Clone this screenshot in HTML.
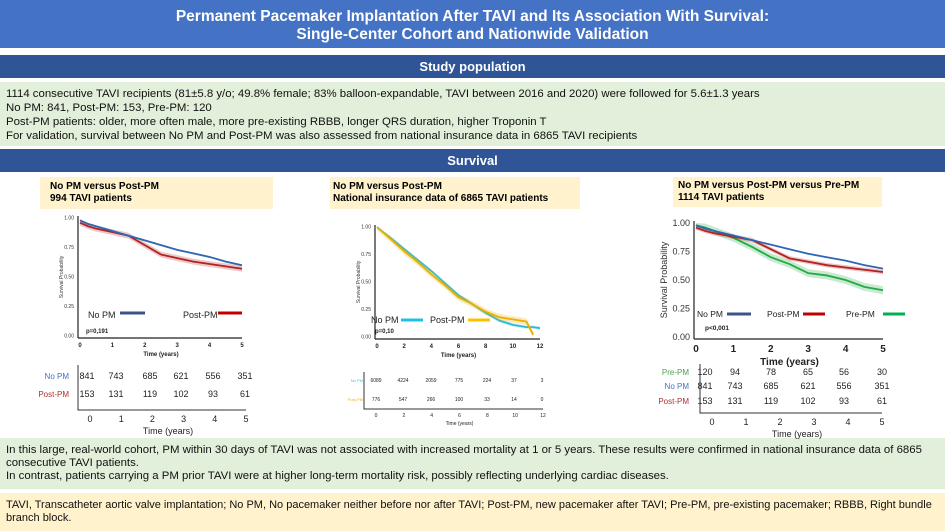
<!DOCTYPE html>
<html><head><meta charset="utf-8"><style>
body{margin:0;width:945px;height:531px;position:relative;overflow:hidden;background:#fff;font-family:"Liberation Sans",sans-serif}
.abs{position:absolute}
.bar{left:0;width:945px;color:#fff;font-weight:bold;text-align:center}
.txt{font-size:11.4px;color:#111;line-height:14px;padding-left:6px;box-sizing:border-box}
</style></head><body>
<div class="abs bar" style="top:0;height:48px;background:#4472c4;font-size:15.5px;line-height:18px;padding-top:8px;box-sizing:border-box">Permanent Pacemaker Implantation After TAVI and Its Association With Survival:<br>Single-Center Cohort and Nationwide Validation</div>
<div class="abs bar" style="top:55px;height:23px;background:#2f5597;font-size:13px;line-height:23px">Study population</div>
<div class="abs txt" style="left:0;top:82px;width:945px;height:64px;background:#e2efda;padding-top:5px">1114 consecutive TAVI recipients (81±5.8 y/o; 49.8% female; 83% balloon-expandable, TAVI between 2016 and 2020) were followed for 5.6±1.3 years<br>No PM: 841, Post-PM: 153, Pre-PM: 120<br>Post-PM patients: older, more often male, more pre-existing RBBB, longer QRS duration, higher Troponin T<br>For validation, survival between No PM and Post-PM was also assessed from national insurance data in 6865 TAVI recipients</div>
<div class="abs bar" style="top:149px;height:23px;background:#2f5597;font-size:13px;line-height:23px">Survival</div>
<div class="abs" style="left:40px;top:177px;width:233px;height:32px;background:#fff2cc;font-size:10px;font-weight:bold;line-height:12px;padding:4px 0 0 10px;box-sizing:border-box">No PM versus Post-PM<br>994 TAVI patients</div>
<div class="abs" style="left:330px;top:177px;width:250px;height:32px;background:#fff2cc;font-size:10px;font-weight:bold;line-height:12px;padding:4px 0 0 3px;box-sizing:border-box">No PM versus Post-PM<br>National insurance data of 6865 TAVI patients</div>
<div class="abs" style="left:673px;top:177px;width:209px;height:30px;background:#fff2cc;font-size:10px;font-weight:bold;line-height:12px;padding:3px 0 0 5px;box-sizing:border-box">No PM versus Post-PM versus Pre-PM<br>1114 TAVI patients</div>
<div class="abs txt" style="left:0;top:438px;width:945px;height:51px;background:#e2efda;padding-top:6px;line-height:13px">In this large, real-world cohort, PM within 30 days of TAVI was not associated with increased mortality at 1 or 5 years. These results were confirmed in national insurance data of 6865 consecutive TAVI patients.<br>In contrast, patients carrying a PM prior TAVI were at higher long-term mortality risk, possibly reflecting underlying cardiac diseases.</div>
<div class="abs txt" style="left:0;top:493px;width:945px;height:38px;background:#fff2cc;padding-top:6px;line-height:13px;white-space:nowrap;font-size:11px">TAVI, Transcatheter aortic valve implantation; No PM, No pacemaker neither before nor after TAVI; Post-PM, new pacemaker after TAVI; Pre-PM, pre-existing pacemaker; RBBB, Right bundle<br>branch block.</div>
<svg id="s" class="abs" style="left:0;top:0" width="945" height="531"></svg>
<script>
// Chart 1 data
const c1Times=[0,0.25,0.5,1,1.5,2,2.5,3,3.5,4,4.5,5];
const c1NoPM=[0.98,0.95,0.93,0.89,0.85,0.81,0.77,0.73,0.70,0.67,0.63,0.60];
const c1PostPM=[0.96,0.93,0.91,0.88,0.85,0.77,0.69,0.66,0.63,0.61,0.59,0.57];
const c1RiskNo=[841,743,685,621,556,351];
const c1RiskPost=[153,131,119,102,93,61];
// Chart 2 data
const c2Times=[0,1,2,3,4,5,6,7,8,9,10,11,11.5,12];
const c2NoPM=[1,0.90,0.80,0.70,0.60,0.49,0.38,0.30,0.22,0.15,0.11,0.09,0.09,0.08];
const c2PostPM=[1,0.89,0.78,0.68,0.57,0.47,0.36,0.30,0.23,0.18,0.16,0.14,0.02,null];
const c2RiskNo=[6089,4224,2059,775,224,37,3];
const c2RiskPost=[776,547,266,100,33,14,0];
// Chart 3 data
const c3PrePM=[0.98,0.96,0.93,0.87,0.79,0.70,0.64,0.56,0.54,0.50,0.44,0.41];
const c3RiskPre=[120,94,78,65,56,30];
const yTicks=[0,0.25,0.5,0.75,1];
const S=document.getElementById('s');const NS='http://www.w3.org/2000/svg';
function el(t,a,txt){const e=document.createElementNS(NS,t);for(const k in a)e.setAttribute(k,a[k]);if(txt!==undefined)e.textContent=txt;S.appendChild(e);return e;}
function chart(id,o){
 const X=v=>o.x0+(v/o.xmax)*(o.x1-o.x0),Y=v=>o.y0-v*(o.y0-o.y1);
 let e=el('line',{x1:o.x0-2,y1:o.y1-2,x2:o.x0-2,y2:o.y0+2,stroke:'#222','stroke-width':1.2});
 
 
 e=el('line',{x1:o.x0-2,y1:o.y0+2,x2:o.x1,y2:o.y0+2,stroke:'#222','stroke-width':1.2});
 
 
 yTicks.forEach(v=>{const t=el('text',{x:o.x0-6,y:Y(v)+o.fs/3,'font-size':o.fs,'text-anchor':'end',fill:'#333','font-weight':o.bold?'bold':'normal'},v.toFixed(2));
  
  });
 o.xticks.forEach(v=>{const t=el('text',{x:X(v),y:o.y0+o.fs+6,'font-size':o.fs+1,'text-anchor':'middle',fill:'#222','font-weight':'bold'},v);
  
  });
 let t=el('text',{x:(o.x0+o.x1)/2,y:o.y0+o.fs*2+10,'font-size':o.fs+1,'text-anchor':'middle','font-weight':'bold',fill:'#222'},'Time (years)');
 
 
 t=el('text',{transform:`translate(${o.x0-o.fs*3-2},${(o.y0+o.y1)/2}) rotate(-90)`,'font-size':o.fs,'text-anchor':'middle',fill:'#333'},'Survival Probability');
 
 
 o.series.forEach(s=>{
  let d='',up=[],lo=[];
  for(let i=0;i<o.times.length;i++){const v=s.vals[i];if(v==null)break;const x=X(o.times[i]);
   d+=(i===0?'M':' L')+x+','+Y(v);
   up.push([x,Y(Math.min(1,v+s.band))]);lo.push([x,Y(v-s.band)]);}
  const pts=up.concat(lo.reverse()).map(p=>p.join(',')).join(' ');
  let b=el('polygon',{points:pts,fill:s.color,opacity:0.25});
  
  
  let p=el('path',{d:d,fill:'none',stroke:s.color,'stroke-width':1.8});
  
  
 });
}
function txt(x,y,s,a){const t=el('text',Object.assign({x:x,y:y,'font-size':10,fill:'#222'},a||{}),s);return t;}
function lg(x,y,len,c){const l=el('line',{x1:x,y1:y,x2:x+len,y2:y,stroke:c,'stroke-width':3});return l;}
function risk(id,rows,xs,y,lx,fs){rows.forEach((r,ri)=>{let t=txt(lx,y[ri],r.label,{'font-size':fs-1,fill:r.color,'text-anchor':'end'});
 
 
 r.vals.forEach((v,i)=>{const n=txt(xs[i],y[ri],v,{'font-size':fs,'text-anchor':'middle'});
 
 });});}
function riskAxis(id,x0,x1,top,yb,ticks,fs,xmax){
 let a=el('polyline',{points:`${x0-12},${top} ${x0-12},${yb} ${x1},${yb}`,fill:'none',stroke:'#333','stroke-width':1});
 
 
 ticks.forEach(v=>{const t=txt(x0+(v/xmax)*(x1-x0),yb+fs+3,v,{'font-size':fs,'text-anchor':'middle'});
 
 });
 const t=txt((x0+x1)/2,yb+fs*2+6,'Time (years)',{'font-size':fs,'text-anchor':'middle'});
 
 
 return ticks.map(v=>x0+(v/xmax)*(x1-x0));}
// chart 1
chart('chart1',{x0:80,x1:242,xmax:5,y0:336,y1:218,fs:5,xticks:[0,1,2,3,4,5],times:c1Times,
 series:[{name:'c1-post-pm',vals:c1PostPM,color:'#b22222',band:0.025},{name:'c1-no-pm',vals:c1NoPM,color:'#2f66b3',band:0.008}]});
let e=txt(88,318,'No PM',{'font-size':9});
e=lg(120,313,25,'#3b5488');
e=txt(183,318,'Post-PM',{'font-size':9});
e=lg(218,313,24,'#c00000');
e=txt(86,333,'p=0,191',{'font-size':6,'font-weight':'bold'});
riskAxis('chart1',90,246,365,410,[0,1,2,3,4,5],9,5);
risk('chart1',[{label:'No PM',color:'#4472c4',vals:c1RiskNo},{label:'Post-PM',color:'#b03030',vals:c1RiskPost}],[87,116,150,181,213,245],[379,397],69,9);
// chart 2
chart('chart2',{x0:377,x1:540,xmax:12,y0:337,y1:227,fs:5,xticks:[0,2,4,6,8,10,12],times:c2Times,
 series:[{name:'c2-no-pm',vals:c2NoPM,color:'#2bbbd8',band:0.015},{name:'c2-post-pm',vals:c2PostPM,color:'#e8b000',band:0.03}]});
e=txt(371,323,'No PM',{'font-size':9});
e=lg(401,320,22,'#1cc0e8');
e=txt(430,323,'Post-PM',{'font-size':9});
e=lg(468,320,22,'#ffc000');
e=txt(375,333,'p=0,10',{'font-size':6,'font-weight':'bold'});
riskAxis('chart2',376,543,372,409,[0,2,4,6,8,10,12],5,12);
risk('chart2',[{label:'No PM',color:'#3cc8d8',vals:c2RiskNo},{label:'Post-PM',color:'#f0b400',vals:c2RiskPost}],[376,403,431,459,487,514,542],[382,401],363,5);
// chart 3
chart('chart3',{x0:696,x1:883,xmax:5,y0:337,y1:223,fs:9,bold:false,xticks:[0,1,2,3,4,5],times:c1Times,
 series:[{name:'c3-pre-pm',vals:c3PrePM,color:'#22aa44',band:0.035},{name:'c3-post-pm',vals:c1PostPM,color:'#b22222',band:0.02},{name:'c3-no-pm',vals:c1NoPM,color:'#2f66b3',band:0.006}]});
e=txt(697,317,'No PM',{'font-size':8.5});
e=lg(727,314,24,'#3b5488');
e=txt(767,317,'Post-PM',{'font-size':8.5});
e=lg(803,314,22,'#c00000');
e=txt(846,317,'Pre-PM',{'font-size':8.5});
e=lg(883,314,22,'#00b050');
e=txt(705,330,'p<0,001',{'font-size':6.5,'font-weight':'bold'});
riskAxis('chart3',712,882,364,413,[0,1,2,3,4,5],9,5);
risk('chart3',[{label:'Pre-PM',color:'#4aa04a',vals:c3RiskPre},{label:'No PM',color:'#4472c4',vals:c1RiskNo},{label:'Post-PM',color:'#b03030',vals:c1RiskPost}],[705,735,771,808,844,882],[375,389,404],689,9);
</script>
</body></html>
